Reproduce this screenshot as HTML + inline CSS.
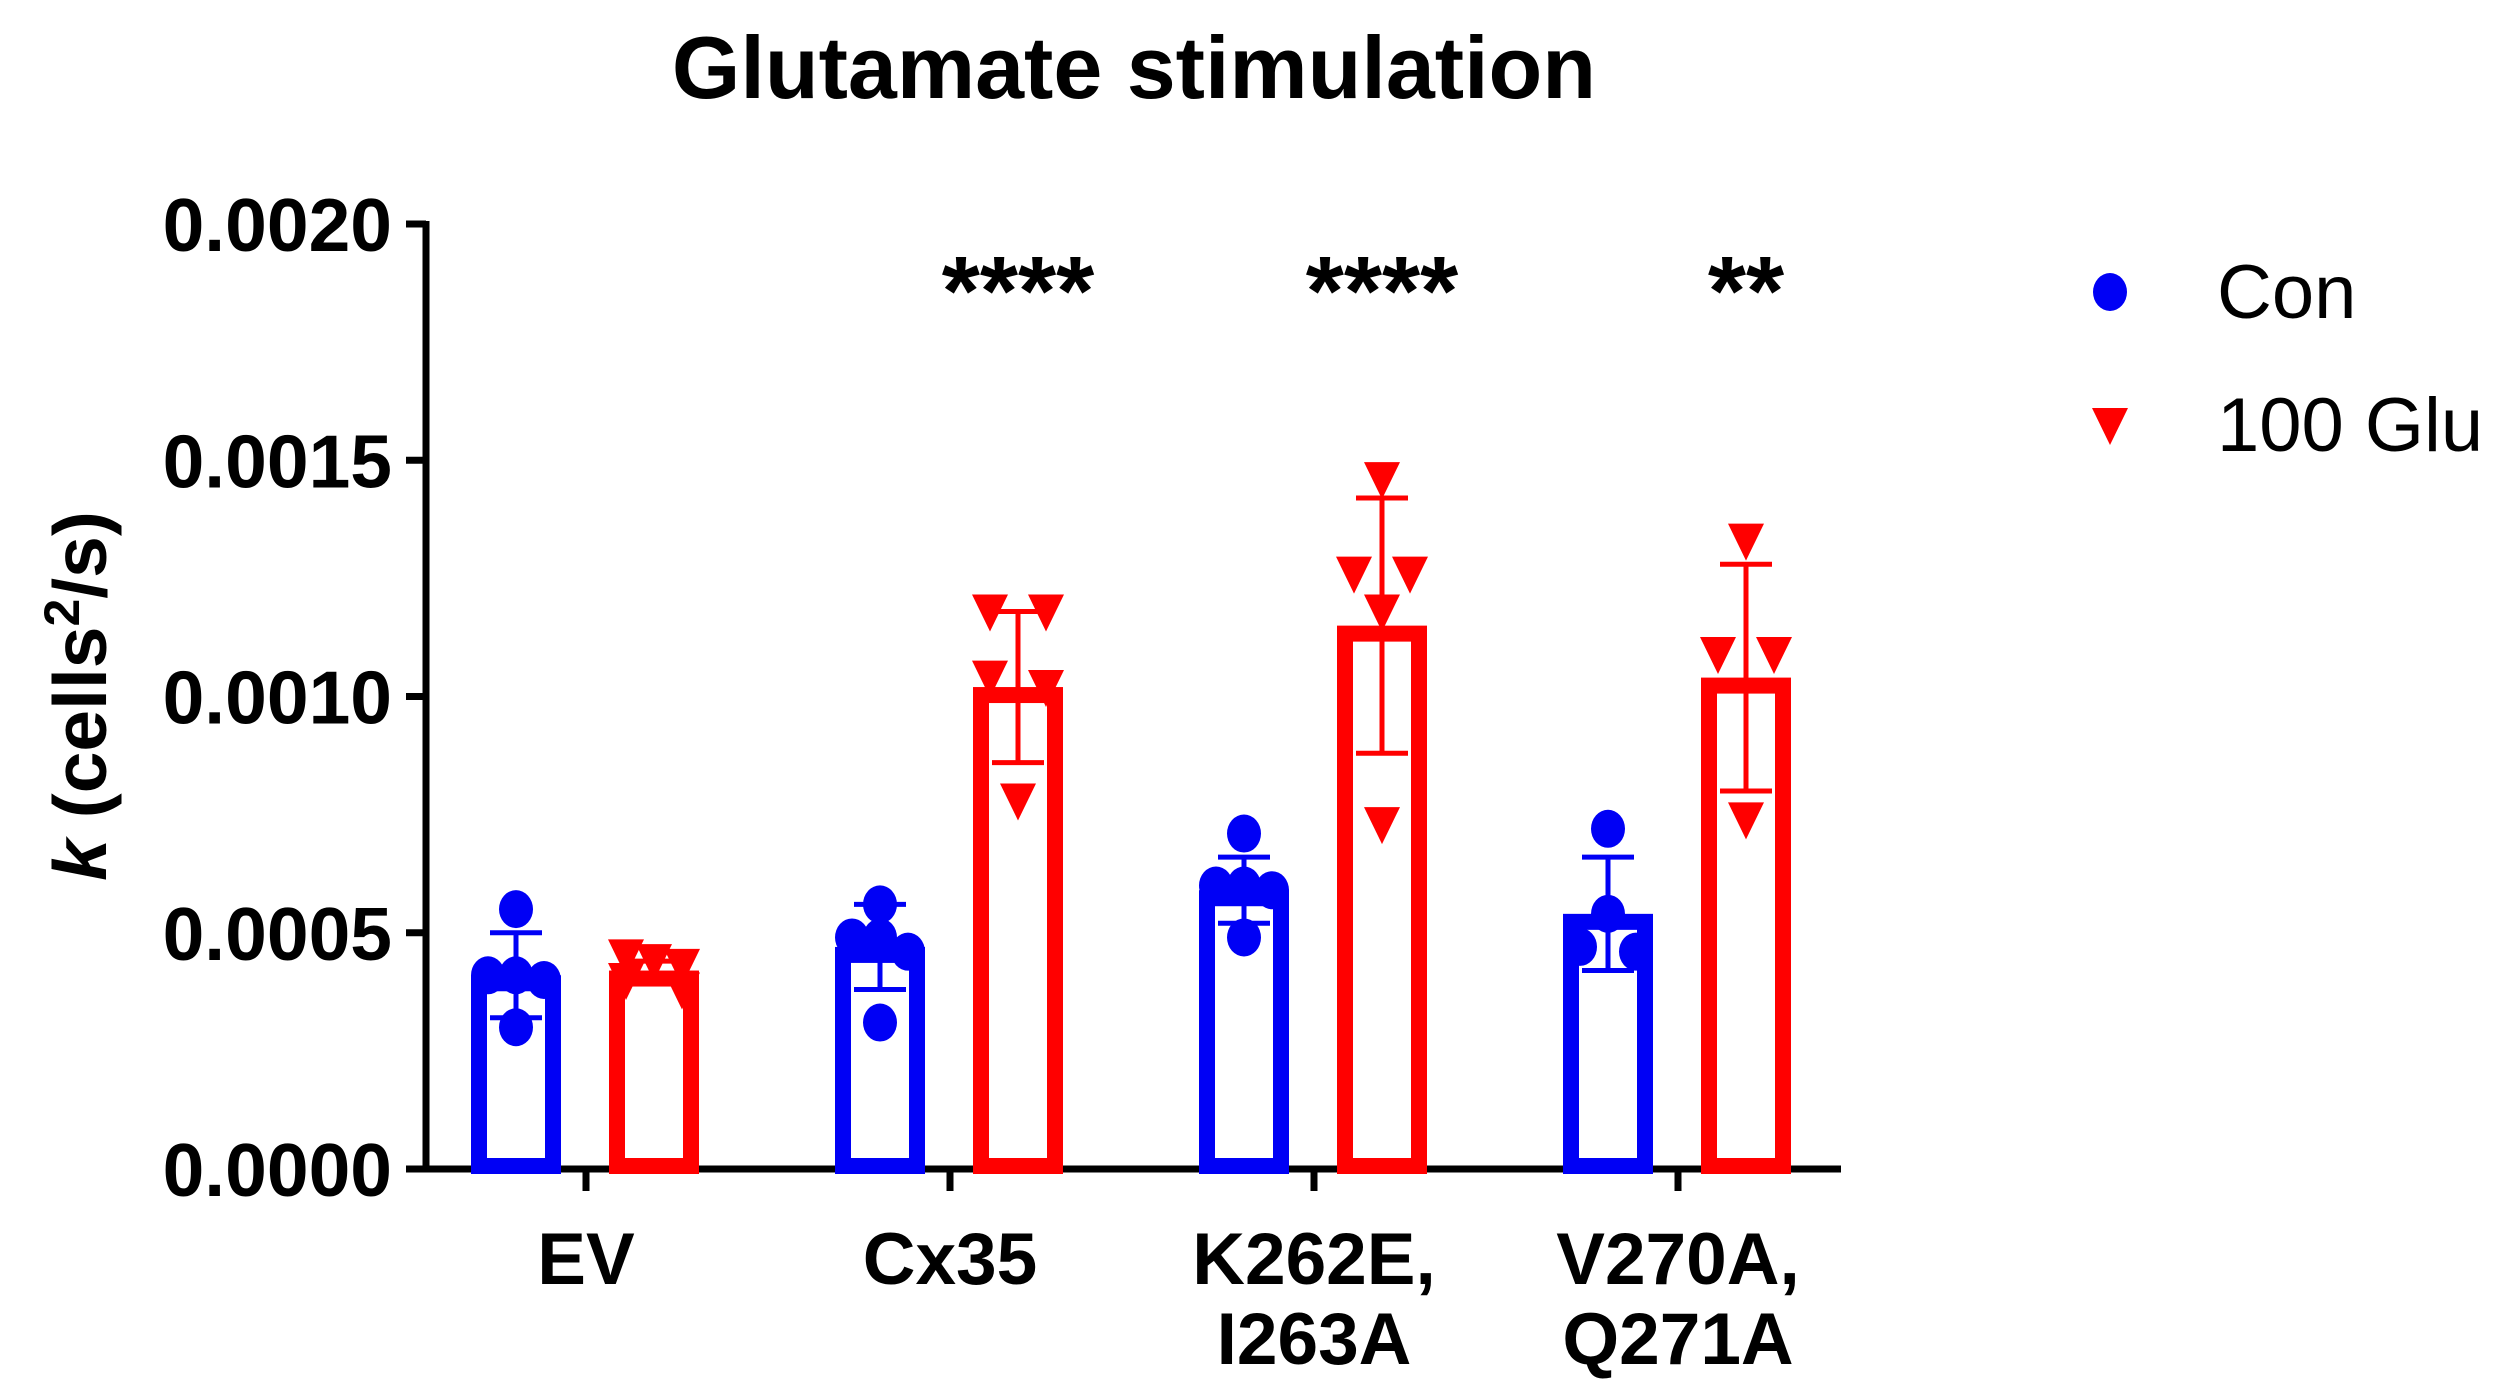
<!DOCTYPE html>
<html><head><meta charset="utf-8"><style>
html,body{margin:0;padding:0;background:#fff;}
svg{display:block;font-family:"Liberation Sans",Arial,sans-serif;}
</style></head><body>
<svg id="chart" width="2504" height="1398" viewBox="0 0 2504 1398" xmlns="http://www.w3.org/2000/svg">
<text x="1134" y="98" font-size="88" font-weight="bold" text-anchor="middle">Glutamate stimulation</text>
<g id="axes"></g><g id="bars"></g><g id="legend"></g>
</svg>
<script>
const categories=[["EV"],["Cx35"],["K262E,","I263A"],["V270A,","Q271A"]];
const conMean=[0.00041,0.00047,0.00059,0.00054];
const conSD=[0.00009,0.00009,0.00007,0.00012];
const gluMean=[0.00042,0.00102,0.00115,0.00104];
const gluSD=[0.00002,0.00016,0.00027,0.00024];
const conPoints=[[0.00055,0.00041,0.00041,0.00040,0.00030],[0.00056,0.00049,0.00049,0.00046,0.00031],[0.00071,0.00060,0.00060,0.00059,0.00049],[0.00072,0.00054,0.00047,0.00046]];
const gluPoints=[[0.00045,0.00044,0.00043,0.00040,0.00038],[0.00118,0.00118,0.00104,0.00102,0.00078],[0.00146,0.00126,0.00126,0.00118,0.00073],[0.00133,0.00109,0.00109,0.00074]];
const stars=["","****","****","**"];
const yTicks=[0,0.0005,0.001,0.0015,0.002];
const yTickLabels=["0.0000","0.0005","0.0010","0.0015","0.0020"];

const NS="http://www.w3.org/2000/svg";
const X0=426,Y0=1169,YTOP=224,XEND=1841,YMAX=0.002;
const y=v=>Y0-(v/YMAX)*(Y0-YTOP);
const xCat=i=>586+i*364;
function mk(tag,attrs,parent){const e=document.createElementNS(NS,tag);for(const k in attrs)e.setAttribute(k,attrs[k]);parent.appendChild(e);return e;}
const axes=document.getElementById('axes'),bars=document.getElementById('bars'),legend=document.getElementById('legend');

let e=mk('line',{x1:X0,y1:YTOP-3,x2:X0,y2:Y0+3,stroke:'#000','stroke-width':7},axes);


e=mk('line',{x1:X0-3,y1:Y0,x2:XEND,y2:Y0,stroke:'#000','stroke-width':7},axes);


yTicks.forEach((v,i)=>{
  let t=mk('line',{x1:X0-20,y1:y(v),x2:X0,y2:y(v),stroke:'#000','stroke-width':7},axes);
  
  
  let l=mk('text',{x:X0-34,y:y(v)+27,'font-size':75,'font-weight':'bold','text-anchor':'end'},axes);
  l.textContent=yTickLabels[i];
  
  
});
let yt=mk('text',{x:0,y:0,'font-size':75,'font-weight':'bold','text-anchor':'middle',transform:'translate(106,696) rotate(-90)'},axes);
yt.innerHTML='<tspan font-style="italic">k</tspan> (cells<tspan font-size="50" dy="-27">2</tspan><tspan dy="27">/s)</tspan>';



function jitter(pts){
  const off=pts.map(()=>0);
  const used=pts.map(()=>false);
  for(let i=0;i<pts.length;i++){
    if(used[i])continue;
    const grp=[i];
    for(let j=i+1;j<pts.length;j++) if(!used[j]&&Math.abs(pts[j]-pts[i])<0.00004) grp.push(j);
    grp.forEach(k=>used[k]=true);
    const n=grp.length;
    grp.forEach((k,m)=>off[k]=n>1?(m-(n-1)/2)*(56/(n-1)):0);
  }
  return off;
}
function drawGroup(i,mean,sd,pts,color,dx,shape,nm){
  const cx=xCat(i)+dx,w=90,sw=16;
  let b=mk('rect',{x:cx-w/2+sw/2,y:y(mean)+sw/2,width:w-sw,height:Y0-y(mean)-sw/2-3,fill:'none',stroke:color,'stroke-width':sw},bars);
  
  
  const off=jitter(pts);
  pts.forEach((p,k)=>{
    let m;
    const px=cx+off[k],py=y(p);
    if(shape==='c') m=mk('ellipse',{cx:px,cy:py,rx:17,ry:19,fill:color},bars);
    else m=mk('polygon',{points:`${px-18},${py-17} ${px+18},${py-17} ${px},${py+20}`,fill:color},bars);
    
    
  });
  let g=mk('path',{d:`M${cx},${y(mean-sd)}V${y(mean+sd)}M${cx-26},${y(mean+sd)}H${cx+26}M${cx-26},${y(mean-sd)}H${cx+26}`,stroke:color,'stroke-width':5,fill:'none'},bars);
  
  
}
categories.forEach((c,i)=>{
  drawGroup(i,conMean[i],conSD[i],conPoints[i],'#0000f5',-70,'c','con');
  drawGroup(i,gluMean[i],gluSD[i],gluPoints[i],'#ff0000',68,'t','glu');
  let t=mk('line',{x1:xCat(i),y1:Y0,x2:xCat(i),y2:Y0+22,stroke:'#000','stroke-width':7},axes);
  
  
  c.forEach((s,k)=>{
    let l=mk('text',{x:xCat(i),y:1284+k*80,'font-size':73,'font-weight':'bold','text-anchor':'middle'},axes);
    l.textContent=s;
    
    
  });
  if(stars[i]){
    let s=mk('text',{x:xCat(i)+68,y:325,'font-size':98,'font-weight':'bold','text-anchor':'middle'},axes);
    s.textContent=stars[i];
    
    
  }
});
let lc=mk('ellipse',{cx:2110,cy:292,rx:17,ry:19,fill:'#0000f5'},legend);


let lt=mk('text',{x:2217,y:318,'font-size':76},legend);lt.textContent='Con';


let lg=mk('polygon',{points:'2092,408 2128,408 2110,445',fill:'#ff0000'},legend);


let lt2=mk('text',{x:2217,y:451,'font-size':76},legend);lt2.textContent='100 Glu';


</script>
</body></html>
